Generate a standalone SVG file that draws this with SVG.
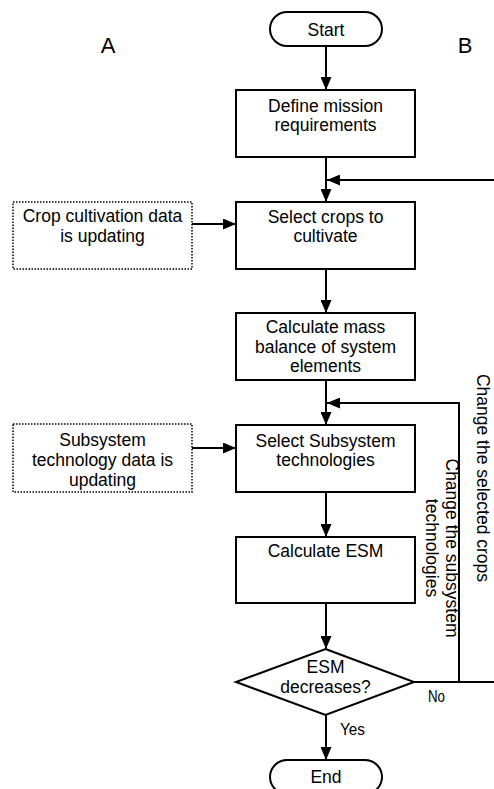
<svg xmlns="http://www.w3.org/2000/svg" width="494" height="789" viewBox="0 0 494 789">
<defs>
<marker id="arr" markerUnits="userSpaceOnUse" markerWidth="13" markerHeight="11" refX="13" refY="5.5" orient="auto">
<path d="M0,0 L13,5.5 L0,11 z" fill="#000"/>
</marker>
<style>
text{font-family:"Liberation Sans",Arial,sans-serif;font-size:17.5px;fill:#000;text-anchor:middle}
.box{fill:#fff;stroke:#000;stroke-width:2}
.dot{fill:#fff;stroke:#000;stroke-width:1.5;stroke-dasharray:1.5 1.5}
.ln{fill:none;stroke:#000;stroke-width:2}
.big{font-size:22px}
.lab{font-size:16px;text-anchor:start}
</style>
</defs>
<rect width="494" height="789" fill="#fff"/>
<text class="big" x="108" y="53">A</text>
<text class="big" x="465" y="53">B</text>
<g id="connectors">
<path class="ln" d="M326,46 V90" marker-end="url(#arr)"/>
<path class="ln" d="M326,157 V202" marker-end="url(#arr)"/>
<path class="ln" d="M192,224 H236" marker-end="url(#arr)"/>
<path class="ln" d="M326,269 V313" marker-end="url(#arr)"/>
<path class="ln" d="M326,380 V425" marker-end="url(#arr)"/>
<path class="ln" d="M192,448 H236" marker-end="url(#arr)"/>
<path class="ln" d="M326,492 V537" marker-end="url(#arr)"/>
<path class="ln" d="M326,603 V649" marker-end="url(#arr)"/>
<path class="ln" d="M326,715 V760" marker-end="url(#arr)"/>
<path class="ln" d="M414,682 H497 V180 H327" marker-end="url(#arr)"/>
<path class="ln" d="M459,682 V403 H327" marker-end="url(#arr)"/>
<text x="477" y="478" transform="rotate(90 477 478)">Change the selected crops</text>
<text x="446" y="548" transform="rotate(90 446 548)">Change the subsystem</text>
<text x="426" y="548" transform="rotate(90 426 548)">technologies</text>
<text class="lab" x="428" y="702" textLength="17" lengthAdjust="spacingAndGlyphs">No</text>
<text class="lab" x="340" y="735" textLength="25" lengthAdjust="spacingAndGlyphs">Yes</text>
</g>
<g id="start">
<rect class="box" x="270" y="12" width="112" height="34" rx="17"/>
<text x="326" y="36">Start</text>
</g>
<g id="define">
<rect class="box" x="236" y="90" width="179" height="67"/>
<text x="325.5" y="112">Define mission</text>
<text x="325.5" y="131">requirements</text>
</g>
<g id="cropdata">
<rect class="dot" x="13" y="202" width="179" height="67"/>
<text x="102.5" y="222">Crop cultivation data</text>
<text x="102.5" y="242">is updating</text>
</g>
<g id="selectcrops">
<rect class="box" x="236" y="202" width="179" height="67"/>
<text x="325.5" y="223">Select crops to</text>
<text x="325.5" y="242">cultivate</text>
</g>
<g id="massbalance">
<rect class="box" x="236" y="313" width="179" height="67"/>
<text x="325.5" y="333">Calculate mass</text>
<text x="325.5" y="353">balance of system</text>
<text x="325.5" y="372">elements</text>
</g>
<g id="subdata">
<rect class="dot" x="13" y="424" width="179" height="68"/>
<text x="102.5" y="446">Subsystem</text>
<text x="102.5" y="466">technology data is</text>
<text x="102.5" y="486">updating</text>
</g>
<g id="selectsub">
<rect class="box" x="236" y="425" width="179" height="67"/>
<text x="325.5" y="447">Select Subsystem</text>
<text x="325.5" y="466">technologies</text>
</g>
<g id="calcesm">
<rect class="box" x="236" y="537" width="179" height="66"/>
<text x="325.5" y="557">Calculate ESM</text>
</g>
<g id="decision">
<path class="box" d="M325.5,649 L414,682 L325.5,715 L236,682 z"/>
<text x="325.5" y="673">ESM</text>
<text x="325.5" y="693">decreases?</text>
</g>
<g id="end">
<rect class="box" x="270" y="760" width="112" height="34" rx="17"/>
<text x="326" y="783">End</text>
</g>
</svg>
